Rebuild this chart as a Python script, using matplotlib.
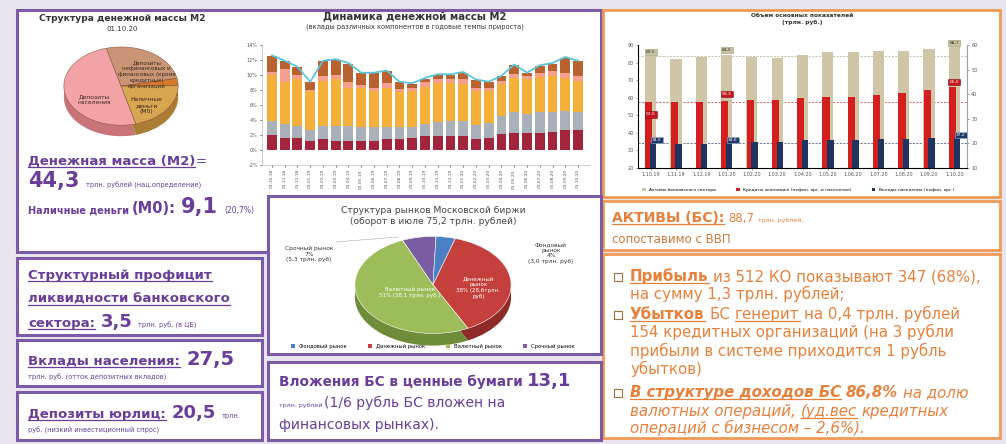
import matplotlib
matplotlib.use('Agg')
import matplotlib.pyplot as plt
from matplotlib.patches import Rectangle
from matplotlib.lines import Line2D

W, H = 1006, 444

# ---------- данные ----------
m2_pie_labels = ['Депозиты\nнефинансовых и\nфинансовых (кроме\nкредитных)\nорганизаций', '',
                 'Наличные\nденьги\n(М0)', 'Депозиты\nнаселения']
m2_pie_shares = [26, 3, 21, 50]

m2_dates = ['01.10.18', '01.11.18', '01.12.18', '01.01.19', '01.02.19', '01.03.19', '01.04.19',
            '01.05.19', '01.06.19', '01.07.19', '01.08.19', '01.09.19', '01.10.19', '01.11.19',
            '01.12.19', '01.01.20', '01.02.20', '01.03.20', '01.04.20', '01.05.20', '01.06.20',
            '01.07.20', '01.08.20', '01.09.20', '01.10.20']
m2_red = [2.0, 1.6, 1.6, 1.2, 1.4, 1.2, 1.2, 1.2, 1.2, 1.5, 1.5, 1.6, 1.8, 1.9, 1.9, 1.8, 1.5,
          1.6, 2.1, 2.2, 2.2, 2.3, 2.4, 2.6, 2.6]
m2_grey = [1.8, 1.8, 1.6, 1.4, 1.8, 2.0, 2.0, 1.8, 1.8, 1.6, 1.6, 1.4, 1.6, 1.8, 2.0, 2.0, 1.8,
           2.0, 2.4, 2.8, 2.6, 2.8, 2.6, 2.6, 2.4]
m2_orange = [6.2, 5.6, 6.2, 5.2, 6.0, 6.2, 5.0, 5.2, 4.8, 5.2, 4.6, 4.8, 5.0, 5.2, 5.0, 5.0, 4.6,
             4.2, 4.3, 4.6, 4.6, 4.6, 4.9, 4.4, 4.2]
m2_pink = [0.4, 1.8, 0.6, 0.2, 0.6, 0.6, 0.8, 0.4, 0.4, 0.6, 0.4, 0.4, 0.6, 0.5, 0.6, 0.6, 0.4,
           0.4, 0.4, 0.5, 0.4, 0.5, 0.6, 0.6, 0.6]
m2_brown = [2.1, 1.0, 1.0, 1.0, 2.0, 2.0, 2.5, 1.6, 2.0, 1.6, 0.9, 0.6, 0.5, 0.6, 0.5, 0.9, 1.0,
            0.8, 0.6, 1.2, 0.4, 1.0, 1.0, 2.1, 2.0]
m2_growth = [12.6, 11.9, 11.1, 9.1, 11.9, 12.1, 11.6, 10.3, 10.3, 10.6, 9.1, 8.9, 9.6, 10.1,
             10.1, 10.4, 9.4, 9.1, 9.9, 11.4, 10.3, 11.3, 11.6, 12.4, 11.9]

bank_dates = ['1.10.19', '1.11.19', '1.12.19', '1.01.20', '1.02.20', '1.03.20', '1.04.20',
              '1.05.20', '1.06.20', '1.07.20', '1.08.20', '1.09.20', '1.10.20']
bank_assets = [83.5, 82.0, 83.0, 84.5, 83.2, 82.4, 84.3, 86.0, 86.0, 86.6, 86.6, 87.6, 88.7]
bank_credit = [57.5, 57.6, 57.8, 58.3, 58.5, 58.6, 59.6, 60.4, 60.5, 61.5, 62.5, 64.5, 66.0]
bank_deposits = [34.5, 33.8, 33.9, 34.6, 34.6, 35.0, 35.7, 36.0, 36.0, 36.3, 36.4, 36.8, 37.2]
bank_legend = ['Активы банковского сектора', 'Кредиты экономике (нефин. орг. и население)',
               'Вклады населения (нефин. орг.)']

moex_names = ['Срочный рынок', 'Фондовый рынок', 'Денежный рынок', 'Валютный рынок']
moex_shares = [7, 4, 38, 51]

PURPLE = '#6a3d9a'
BOX_PURPLE = '#7b5aa6'
ORANGE = '#e9803a'
BOX_ORANGE = '#f19a55'

fig = plt.figure(figsize=(W / 100, H / 100), dpi=100, facecolor='#e9e4ee')
renderer = fig.canvas.get_renderer()


def fx(x):
    return x / W


def fy(y):
    return 1 - y / H


def box(x0, y0, x1, y1, edge, lw=2.0, face='white'):
    fig.add_artist(Rectangle((fx(x0), fy(y1)), (x1 - x0) / W, (y1 - y0) / H,
                             transform=fig.transFigure, facecolor=face, edgecolor=edge, lw=lw,
                             zorder=-10))


def axes_px(x0, y0, x1, y1):
    a = fig.add_axes([fx(x0), fy(y1), (x1 - x0) / W, (y1 - y0) / H])
    a.patch.set_alpha(0)
    return a


def runs(x, y, parts, color):
    # parts: (text, size, weight, style, underline)
    for txt, size, weight, style, ul in parts:
        lead = len(txt) - len(txt.lstrip(' '))
        trail = len(txt) - len(txt.rstrip(' '))
        sp = 0.32 * size * 100 / 72
        x += lead * sp
        core = txt.strip(' ')
        t = fig.text(fx(x), fy(y), core, fontsize=size, fontweight=weight, fontstyle=style,
                     color=color, va='baseline', ha='left')
        bb = t.get_window_extent(renderer)
        if ul:
            fig.add_artist(Line2D([bb.x0 / W, bb.x1 / W], [fy(y + 2)] * 2, color=color, lw=0.9,
                                  transform=fig.transFigure))
        x = bb.x1 + trail * sp
    return x


# ---------- рамки ----------
box(17, 10, 601, 252, BOX_PURPLE, 2.2)
box(603, 10, 1000, 197, BOX_ORANGE, 2.0)
box(603, 201, 1000, 250, BOX_ORANGE, 2.0)
box(603, 254, 1000, 438, BOX_ORANGE, 2.0)
box(17, 258, 262, 335, BOX_PURPLE, 2.2)
box(17, 340, 262, 386, BOX_PURPLE, 2.2)
box(17, 392, 262, 440, BOX_PURPLE, 2.2)
box(268, 196, 601, 354, BOX_PURPLE, 2.2)
box(268, 362, 601, 440, BOX_PURPLE, 2.2)

# ---------- круговая М2 ----------
fig.text(fx(122), fy(21), 'Структура денежной массы М2', fontsize=6.6, fontweight='bold',
         ha='center', color='#333333')
fig.text(fx(122), fy(31), '01.10.20', fontsize=5, ha='center', color='#333333')

ax = axes_px(61, 45, 181, 137)
m2_cols = ['#c99574', '#d6782c', '#d8a650', '#f3a3a6']
m2_side = ['#9c6a4c', '#a85a20', '#aa7c34', '#c87478']
ax.pie(m2_pie_shares, colors=m2_side, startangle=105, counterclock=False, center=(0, -0.28),
       wedgeprops=dict(linewidth=0))
ax.pie(m2_pie_shares, colors=m2_cols, startangle=105, counterclock=False,
       wedgeprops=dict(linewidth=0.4, edgecolor='#8a5a40'))
ax.set_xlim(-1.05, 1.05)
ax.set_ylim(-1.3, 1.05)
ax.set_aspect('auto')
ax.axis('off')
ax.text(0.45, 0.3, m2_pie_labels[0], fontsize=4, ha='center', va='center', color='#3a2a20')
ax.text(0.45, -0.5, m2_pie_labels[2], fontsize=4.3, ha='center', va='center', color='#3a2a20')
ax.text(-0.46, -0.35, m2_pie_labels[3], fontsize=4.3, ha='center', va='center', color='#3a2a20')

runs(28, 165, [('Денежная масса (М2)', 9.5, 'bold', 'normal', True), ('=', 9.5, 'normal', 'normal', False)], PURPLE)
runs(28, 187, [('44,3 ', 15, 'bold', 'normal', False),
               ('трлн. рублей (нац.определение)', 4.8, 'normal', 'normal', False)], PURPLE)
runs(28, 213, [('Наличные деньги ', 7, 'bold', 'normal', False), ('(М0): ', 10.5, 'bold', 'normal', False),
               ('9,1 ', 15, 'bold', 'normal', False), ('(20,7%)', 5.5, 'normal', 'normal', False)], PURPLE)

# ---------- динамика М2 ----------
fig.text(fx(415), fy(19), 'Динамика денежной массы М2', fontsize=7.3, fontweight='bold',
         ha='center', color='#333333')
fig.text(fx(415), fy(29), '(вклады различных компонентов в годовые темпы прироста)', fontsize=4.8,
         ha='center', color='#333333')
ax = axes_px(262, 45, 590, 165)
x = list(range(len(m2_dates)))
bottom = [0.0] * len(x)
for vals, col in [(m2_red, '#a3253c'), (m2_grey, '#a9b0ba'), (m2_orange, '#f4b03a'),
                  (m2_pink, '#f3a18c'), (m2_brown, '#b9622f')]:
    ax.bar(x, vals, bottom=bottom, width=0.78, color=col, edgecolor='none')
    bottom = [b + v for b, v in zip(bottom, vals)]
ax.plot(x, m2_growth, color='#5cc4d8', lw=1.3)
ax.set_ylim(-2, 14)
ax.set_xlim(-0.78, 24.94)
ax.set_yticks(range(-2, 15, 2))
ax.set_yticklabels([f'{v}%' for v in range(-2, 15, 2)], fontsize=3.5, color='#555555')
ax.set_xticks(x)
ax.set_xticklabels(m2_dates, rotation=90, fontsize=3.2, color='#555555')
ax.tick_params(length=1.5, width=0.4, pad=1.5)
for s in ['top', 'right']:
    ax.spines[s].set_visible(False)
ax.spines['left'].set_color('#bbbbbb')
ax.spines['bottom'].set_color('#bbbbbb')
ax.spines['left'].set_linewidth(0.5)
ax.spines['bottom'].set_linewidth(0.5)

# ---------- показатели банковского сектора ----------
fig.text(fx(802), fy(19), 'Объем основных показателей\n(трлн. руб.)', fontsize=4.2,
         fontweight='bold', ha='center', va='center', color='#333333', linespacing=1.3)
ax = axes_px(638, 45, 967, 168)
xb = list(range(len(bank_dates)))
ax.bar(xb, bank_assets, width=0.44, color='#cfc6a8')
ax.bar([v - 0.07 for v in xb], bank_credit, width=0.28, color='#d41f1f')
ax.bar([v + 0.1 for v in xb], bank_deposits, width=0.25, color='#1f3560')
ax.set_ylim(20, 90)
ax.set_xlim(-0.5, 12.5)
ax.set_yticks(range(20, 91, 10))
ax.tick_params(labelsize=3.5, length=1.5, width=0.4, colors='#555555', pad=1.5)
ax.set_xticks(xb)
ax.set_xticklabels(bank_dates, fontsize=3.5)
ax.spines['top'].set_visible(False)
for s in ['left', 'bottom', 'right']:
    ax.spines[s].set_color('#9aa0b0')
    ax.spines[s].set_linewidth(0.6)
for vals, col in [(bank_assets, '#b0a880'), (bank_credit, '#c03030'), (bank_deposits, '#2a4070')]:
    ax.axhline(vals[0], color=col, lw=0.5, ls=(0, (3, 2)), zorder=0)
for i in [0, 3, 12]:
    ax.text(i, bank_assets[i] + 2.5, f'{bank_assets[i]:.1f}'.replace('.', ','), fontsize=3.2,
            ha='center', va='center', color='#333333',
            bbox=dict(boxstyle='square,pad=0.25', fc='#c8c0a0', ec='#a09870', lw=0.4))
for i, off in [(0, -7), (3, 4), (12, 3)]:
    ax.text(i, bank_credit[i] + off, f'{bank_credit[i]:.1f}'.replace('.', ','), fontsize=3.2,
            ha='center', va='center', color='white',
            bbox=dict(boxstyle='square,pad=0.25', fc='#c8141c', ec='#801010', lw=0.4))
for i in [0, 3, 12]:
    ax.text(i + 0.25, bank_deposits[i] + 1.5, f'{bank_deposits[i]:.1f}'.replace('.', ','),
            fontsize=3.2, ha='center', va='center', color='white',
            bbox=dict(boxstyle='square,pad=0.25', fc='#1f3a66', ec='#9ab0d0', lw=0.4))
ax2 = ax.twinx()
ax2.set_ylim(10, 60)
ax2.set_yticks(range(10, 61, 10))
ax2.tick_params(labelsize=3.5, length=1.5, width=0.4, colors='#555555', pad=1.5)
ax2.spines['top'].set_visible(False)
ax2.spines['right'].set_color('#9aa0b0')
handles = [Rectangle((0, 0), 1, 1, fc=c) for c in ['#cfc6a8', '#d41f1f', '#1f3560']]
fig.legend(handles, bank_legend, loc='center', bbox_to_anchor=(fx(798), fy(190)), ncol=3,
           fontsize=3.2, frameon=False, handlelength=0.8, handleheight=0.8, columnspacing=4.5)

# ---------- Московская биржа ----------
fig.text(fx(433), fy(216), 'Структура рынков Московской биржи\n(оборот в июле 75,2 трлн. рублей)',
         fontsize=6.6, ha='center', va='center', color='#444444', linespacing=1.25)
ax = axes_px(351, 234, 515, 348)
mx_cols = ['#7a5ca2', '#4a80c4', '#c3403c', '#9cbd5a']
mx_side = ['#5a4080', '#30609a', '#8e2a28', '#6f8c3a']
ax.pie(moex_shares, colors=mx_side, startangle=113, counterclock=False, center=(0, -0.25),
       wedgeprops=dict(linewidth=0))
ax.pie(moex_shares, colors=mx_cols, startangle=113, counterclock=False,
       wedgeprops=dict(linewidth=0.4, edgecolor='white'))
ax.set_xlim(-1.05, 1.05)
ax.set_ylim(-1.3, 1.05)
ax.set_aspect('auto')
ax.axis('off')
ax.text(-0.3, -0.15, 'Валютный рынок\n51% (38,1 трлн. руб.)', fontsize=4, ha='center',
        va='center', color='white')
ax.text(0.58, -0.05, 'Денежный\nрынок\n38% (28,6трлн.\nруб)', fontsize=4, ha='center',
        va='center', color='white')
fig.text(fx(309), fy(254), 'Срочный рынок\n7%\n(5,3 трлн. руб)', fontsize=4.2, ha='center',
         va='center', color='#333333')
fig.text(fx(551), fy(253), 'Фондовый\nрынок\n4%\n(3,0 трлн. руб)', fontsize=4.2, ha='center',
         va='center', color='#333333')
fig.add_artist(Line2D([fx(336), fx(398)], [fy(242), fy(237)], color='#aaaaaa', lw=0.4,
                      transform=fig.transFigure))
leg_order = [1, 2, 3, 0]
handles = [Rectangle((0, 0), 1, 1, fc=mx_cols[i]) for i in leg_order]
fig.legend(handles, [moex_names[i] for i in leg_order], loc='center',
           bbox_to_anchor=(fx(433), fy(346)), ncol=4, fontsize=3.8, frameon=False,
           handlelength=0.7, handleheight=0.7, columnspacing=4)

# ---------- текстовые блоки слева ----------
runs(28, 279, [('Структурный профицит', 9.5, 'bold', 'normal', True)], PURPLE)
runs(28, 303, [('ликвидности банковского', 9.5, 'bold', 'normal', True)], PURPLE)
runs(28, 327, [('сектора:', 9.5, 'bold', 'normal', True), (' 3,5 ', 13, 'bold', 'normal', False),
               ('трлн. руб. (в ЦБ)', 4.8, 'normal', 'normal', False)], PURPLE)
runs(28, 365, [('Вклады населения:', 9.5, 'bold', 'normal', True), (' 27,5', 14, 'bold', 'normal', False)], PURPLE)
runs(28, 379, [('трлн. руб. (отток депозитных вкладов)', 4.8, 'normal', 'normal', False)], PURPLE)
runs(28, 418, [('Депозиты юрлиц:', 9.5, 'bold', 'normal', True), (' 20,5 ', 13, 'bold', 'normal', False),
               ('трлн.', 4.8, 'normal', 'normal', False)], PURPLE)
runs(28, 432, [('руб. (низкий инвестиционный спрос)', 4.8, 'normal', 'normal', False)], PURPLE)

runs(279, 386, [('Вложения БС в ценные бумаги ', 9.8, 'bold', 'normal', False),
                ('13,1', 13, 'bold', 'normal', False)], PURPLE)
runs(279, 407, [('трлн. рублей ', 4.5, 'normal', 'normal', False),
                ('(1/6 рубль БС вложен на', 10, 'normal', 'normal', False)], PURPLE)
runs(279, 429, [('финансовых рынках).', 10, 'normal', 'normal', False)], PURPLE)

# ---------- текстовые блоки справа ----------
runs(612, 222, [('АКТИВЫ (БС):', 10, 'bold', 'normal', True), (' 88,7 ', 8.5, 'normal', 'normal', False),
                ('трлн. рублей,', 4.5, 'normal', 'normal', False)], ORANGE)
runs(612, 243, [('сопоставимо с ВВП', 8.5, 'normal', 'normal', False)], '#d0783a')

for yy in [277, 315, 393]:
    fig.add_artist(Rectangle((fx(614), fy(yy + 4)), 8 / W, 8 / H, transform=fig.transFigure,
                             fc='white', ec='#a07040', lw=0.8))
SZ = 10.8
runs(630, 281, [('Прибыль', SZ, 'bold', 'normal', True),
                (' из 512 КО показывают 347 (68%),', SZ, 'normal', 'normal', False)], ORANGE)
runs(630, 299, [('на сумму 1,3 трлн. рублей;', SZ, 'normal', 'normal', False)], ORANGE)
runs(630, 319, [('Убытков', SZ, 'bold', 'normal', True), (' БС ', SZ, 'normal', 'normal', False),
                ('генерит', SZ, 'normal', 'normal', True),
                (' на 0,4 трлн. рублей', SZ, 'normal', 'normal', False)], ORANGE)
runs(630, 337, [('154 кредитных организаций (на 3 рубли', SZ, 'normal', 'normal', False)], ORANGE)
runs(630, 356, [('прибыли в системе приходится 1 рубль', SZ, 'normal', 'normal', False)], ORANGE)
runs(630, 374, [('убытков)', SZ, 'normal', 'normal', False)], ORANGE)
runs(630, 397, [('В структуре доходов БС', SZ, 'bold', 'italic', True),
                (' 86,8%', SZ, 'bold', 'italic', False),
                (' на долю', SZ, 'normal', 'italic', False)], ORANGE)
runs(630, 416, [('валютных операций, ', SZ, 'normal', 'italic', False),
                ('(уд.вес', SZ, 'normal', 'italic', True),
                (' кредитных', SZ, 'normal', 'italic', False)], ORANGE)
runs(630, 433, [('операций с бизнесом – 2,6%).', SZ, 'normal', 'italic', False)], ORANGE)

fig.savefig('out.png', dpi=100, facecolor=fig.get_facecolor())
